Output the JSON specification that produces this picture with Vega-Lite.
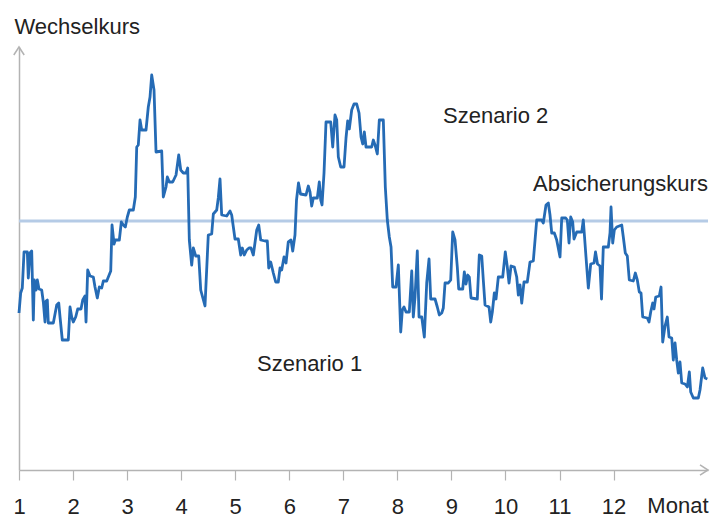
{
  "$schema": "https://vega.github.io/schema/vega-lite/v6.json",
  "width": 689,
  "height": 423,
  "autosize": "none",
  "padding": {"left": 19, "top": 47, "right": 2, "bottom": 48},
  "background": "white",
  "config": {
    "view": {"stroke": null},
    "font": "Liberation Sans",
    "axis": {"grid": false}
  },
  "datasets": {
    "kurs": [
      {"t":1.000,"v":157},{"t":1.031,"v":177},{"t":1.061,"v":182},{"t":1.093,"v":218},{"t":1.154,"v":218},{"t":1.172,"v":192},{"t":1.204,"v":217},{"t":1.235,"v":219},{"t":1.265,"v":150},{"t":1.283,"v":190},
      {"t":1.315,"v":180},{"t":1.339,"v":190},{"t":1.370,"v":181},{"t":1.420,"v":180},{"t":1.450,"v":168},{"t":1.481,"v":148},{"t":1.500,"v":169},{"t":1.524,"v":170},{"t":1.542,"v":147},{"t":1.574,"v":147},
      {"t":1.635,"v":147},{"t":1.698,"v":165},{"t":1.735,"v":167},{"t":1.759,"v":153},{"t":1.801,"v":130},{"t":1.912,"v":130},{"t":1.944,"v":163},{"t":1.975,"v":153},{"t":2.005,"v":148},{"t":2.049,"v":153},
      {"t":2.086,"v":161},{"t":2.147,"v":161},{"t":2.179,"v":170},{"t":2.221,"v":174},{"t":2.240,"v":148},{"t":2.271,"v":200},{"t":2.314,"v":194},{"t":2.375,"v":193},{"t":2.406,"v":183},{"t":2.449,"v":172},
      {"t":2.486,"v":183},{"t":2.530,"v":182},{"t":2.560,"v":189},{"t":2.623,"v":189},{"t":2.697,"v":199},{"t":2.721,"v":245},{"t":2.758,"v":226},{"t":2.782,"v":230},{"t":2.856,"v":230},{"t":2.893,"v":248},
      {"t":2.930,"v":245},{"t":2.967,"v":243},{"t":3.004,"v":253},{"t":3.041,"v":260},{"t":3.115,"v":260},{"t":3.152,"v":273},{"t":3.178,"v":323},{"t":3.207,"v":325},{"t":3.239,"v":350},{"t":3.270,"v":340},
      {"t":3.350,"v":340},{"t":3.392,"v":363},{"t":3.424,"v":373},{"t":3.455,"v":395},{"t":3.498,"v":380},{"t":3.535,"v":318},{"t":3.640,"v":319},{"t":3.670,"v":273},{"t":3.720,"v":283},{"t":3.744,"v":293},
      {"t":3.781,"v":288},{"t":3.844,"v":288},{"t":3.905,"v":295},{"t":3.955,"v":315},{"t":3.992,"v":300},{"t":4.040,"v":297},{"t":4.090,"v":297},{"t":4.121,"v":302},{"t":4.151,"v":230},{"t":4.195,"v":205},
      {"t":4.225,"v":222},{"t":4.269,"v":214},{"t":4.325,"v":214},{"t":4.362,"v":180},{"t":4.441,"v":164},{"t":4.502,"v":235},{"t":4.565,"v":236},{"t":4.595,"v":256},{"t":4.658,"v":260},{"t":4.687,"v":272},
      {"t":4.719,"v":291},{"t":4.750,"v":255},{"t":4.843,"v":254},{"t":4.904,"v":259},{"t":4.935,"v":255},{"t":4.996,"v":231},{"t":5.057,"v":231},{"t":5.102,"v":215},{"t":5.131,"v":222},{"t":5.168,"v":215},
      {"t":5.213,"v":220},{"t":5.255,"v":222},{"t":5.292,"v":222},{"t":5.335,"v":215},{"t":5.398,"v":240},{"t":5.435,"v":245},{"t":5.472,"v":230},{"t":5.551,"v":229},{"t":5.594,"v":229},{"t":5.620,"v":202},
      {"t":5.657,"v":208},{"t":5.705,"v":197},{"t":5.749,"v":188},{"t":5.797,"v":188},{"t":5.829,"v":202},{"t":5.860,"v":200},{"t":5.903,"v":213},{"t":5.940,"v":207},{"t":5.982,"v":228},{"t":6.032,"v":230},
      {"t":6.064,"v":219},{"t":6.106,"v":235},{"t":6.134,"v":270},{"t":6.171,"v":287},{"t":6.208,"v":276},{"t":6.310,"v":275},{"t":6.352,"v":284},{"t":6.384,"v":278},{"t":6.415,"v":264},{"t":6.445,"v":272},
      {"t":6.519,"v":272},{"t":6.556,"v":288},{"t":6.582,"v":270},{"t":6.606,"v":265},{"t":6.643,"v":297},{"t":6.680,"v":348},{"t":6.767,"v":348},{"t":6.804,"v":323},{"t":6.846,"v":355},{"t":6.878,"v":350},
      {"t":6.908,"v":313},{"t":6.952,"v":303},{"t":7.013,"v":303},{"t":7.050,"v":332},{"t":7.081,"v":349},{"t":7.111,"v":341},{"t":7.155,"v":360},{"t":7.198,"v":366},{"t":7.248,"v":366},{"t":7.291,"v":357},
      {"t":7.328,"v":333},{"t":7.359,"v":326},{"t":7.389,"v":338},{"t":7.420,"v":323},{"t":7.525,"v":323},{"t":7.555,"v":330},{"t":7.587,"v":325},{"t":7.629,"v":316},{"t":7.666,"v":350},{"t":7.740,"v":350},
      {"t":7.777,"v":283},{"t":7.814,"v":250},{"t":7.851,"v":233},{"t":7.883,"v":223},{"t":7.914,"v":183},{"t":7.975,"v":183},{"t":8.018,"v":205},{"t":8.062,"v":138},{"t":8.092,"v":160},{"t":8.123,"v":163},
      {"t":8.160,"v":158},{"t":8.221,"v":158},{"t":8.266,"v":199},{"t":8.295,"v":153},{"t":8.327,"v":173},{"t":8.369,"v":219},{"t":8.401,"v":153},{"t":8.451,"v":153},{"t":8.499,"v":133},{"t":8.543,"v":187},
      {"t":8.586,"v":211},{"t":8.617,"v":171},{"t":8.697,"v":171},{"t":8.739,"v":163},{"t":8.776,"v":155},{"t":8.821,"v":157},{"t":8.850,"v":162},{"t":8.882,"v":187},{"t":8.943,"v":187},{"t":8.987,"v":190},
      {"t":9.024,"v":238},{"t":9.067,"v":230},{"t":9.109,"v":203},{"t":9.135,"v":181},{"t":9.209,"v":181},{"t":9.239,"v":198},{"t":9.270,"v":186},{"t":9.302,"v":195},{"t":9.331,"v":193},{"t":9.363,"v":172},
      {"t":9.479,"v":171},{"t":9.516,"v":215},{"t":9.561,"v":214},{"t":9.590,"v":190},{"t":9.622,"v":165},{"t":9.696,"v":163},{"t":9.727,"v":148},{"t":9.757,"v":158},{"t":9.794,"v":177},{"t":9.825,"v":171},
      {"t":9.868,"v":193},{"t":9.949,"v":193},{"t":9.997,"v":218},{"t":10.034,"v":203},{"t":10.066,"v":187},{"t":10.103,"v":204},{"t":10.164,"v":203},{"t":10.208,"v":193},{"t":10.238,"v":175},{"t":10.269,"v":185},
      {"t":10.301,"v":167},{"t":10.343,"v":188},{"t":10.404,"v":188},{"t":10.454,"v":208},{"t":10.515,"v":209},{"t":10.578,"v":250},{"t":10.671,"v":250},{"t":10.700,"v":247},{"t":10.750,"v":265},{"t":10.793,"v":267},
      {"t":10.824,"v":255},{"t":10.856,"v":237},{"t":10.904,"v":237},{"t":10.948,"v":230},{"t":11.009,"v":213},{"t":11.041,"v":252},{"t":11.115,"v":252},{"t":11.144,"v":250},{"t":11.176,"v":227},{"t":11.207,"v":253},
      {"t":11.244,"v":248},{"t":11.268,"v":231},{"t":11.318,"v":238},{"t":11.411,"v":238},{"t":11.440,"v":250},{"t":11.490,"v":213},{"t":11.533,"v":182},{"t":11.577,"v":206},{"t":11.638,"v":207},{"t":11.666,"v":218},
      {"t":11.703,"v":206},{"t":11.749,"v":204},{"t":11.777,"v":171},{"t":11.810,"v":223},{"t":11.903,"v":223},{"t":11.934,"v":237},{"t":11.953,"v":263},{"t":11.984,"v":227},{"t":12.014,"v":240},{"t":12.058,"v":243},
      {"t":12.151,"v":245},{"t":12.180,"v":233},{"t":12.217,"v":217},{"t":12.254,"v":214},{"t":12.291,"v":190},{"t":12.365,"v":189},{"t":12.402,"v":197},{"t":12.439,"v":190},{"t":12.476,"v":178},{"t":12.508,"v":177},
      {"t":12.539,"v":153},{"t":12.624,"v":152},{"t":12.656,"v":148},{"t":12.687,"v":158},{"t":12.724,"v":167},{"t":12.748,"v":161},{"t":12.780,"v":173},{"t":12.846,"v":174},{"t":12.878,"v":183},{"t":12.909,"v":128},
      {"t":12.952,"v":144},{"t":12.994,"v":153},{"t":13.026,"v":133},{"t":13.076,"v":132},{"t":13.105,"v":110},{"t":13.137,"v":127},{"t":13.168,"v":110},{"t":13.198,"v":97},{"t":13.229,"v":108},{"t":13.261,"v":87},
      {"t":13.322,"v":86},{"t":13.365,"v":83},{"t":13.402,"v":98},{"t":13.427,"v":78},{"t":13.476,"v":72},{"t":13.568,"v":72},{"t":13.599,"v":80},{"t":13.649,"v":102},{"t":13.692,"v":92},{"t":13.735,"v":91}
    ],
    "hedge": [{"t": 1, "v": 249}, {"t": 13.747, "v": 249}],
    "labels": [
      {"t": 8.845, "v": 354, "text": "Szenario 2"},
      {"t": 10.510, "v": 286, "text": "Absicherungskurs"},
      {"t": 5.403, "v": 106, "text": "Szenario 1"}
    ],
    "arrowUp": [{"t": 1, "v": 423}],
    "arrowRight": [{"t": 13.747, "v": 0}]
  },
  "encoding": {
    "x": {
      "field": "t", "type": "quantitative",
      "scale": {"domain": [1, 13.747], "nice": false, "zero": false},
      "axis": {
        "values": [1,2,3,4,5,6,7,8,9,10,11,12],
        "format": "d",
        "title": "Monat",
        "titleFont": "Liberation Sans",
        "titleFontSize": 22,
        "titleFontWeight": "normal",
        "titleColor": "#222222",
        "titleAnchor": "end",
        "titleAlign": "right",
        "titleBaseline": "alphabetic",
        "titleX": 689,
        "titleY": 42,
        "domainColor": "#b3b3b3",
        "domainWidth": 1.5,
        "tickColor": "#b3b3b3",
        "tickWidth": 1.2,
        "tickSize": 10,
        "labelFont": "Liberation Sans",
        "labelFontSize": 22,
        "labelColor": "#222222",
        "labelPadding": 16,
        "labelFlush": false,
        "labelOverlap": false,
        "labelBound": false
      }
    },
    "y": {
      "field": "v", "type": "quantitative",
      "scale": {"domain": [0, 423], "nice": false, "zero": false},
      "axis": {
        "title": "Wechselkurs",
        "titleFont": "Liberation Sans",
        "titleFontSize": 22,
        "titleFontWeight": "normal",
        "titleColor": "#222222",
        "titleAngle": 0,
        "titleAlign": "left",
        "titleBaseline": "middle",
        "titleX": -5,
        "titleY": -21,
        "domainColor": "#b3b3b3",
        "domainWidth": 1.5,
        "ticks": false,
        "labels": false
      }
    }
  },
  "layer": [
    {
      "data": {"name": "hedge"},
      "mark": {"type": "line", "color": "#b5cbe6", "strokeWidth": 3}
    },
    {
      "data": {"name": "kurs"},
      "mark": {"type": "line", "color": "#256bb5", "strokeWidth": 2.8, "strokeJoin": "round"}
    },
    {
      "data": {"name": "labels"},
      "mark": {"type": "text", "align": "left", "baseline": "middle", "font": "Liberation Sans", "fontSize": 22, "color": "#222222"},
      "encoding": {"text": {"field": "text"}}
    },
    {
      "data": {"name": "arrowUp"},
      "mark": {"type": "point", "shape": "M-0.65,1L0,0L0.65,1", "filled": false, "stroke": "#b3b3b3", "strokeWidth": 1.5, "size": 256, "opacity": 1}
    },
    {
      "data": {"name": "arrowRight"},
      "mark": {"type": "point", "shape": "M-1,-0.65L0,0L-1,0.65", "filled": false, "stroke": "#b3b3b3", "strokeWidth": 1.5, "size": 256, "opacity": 1}
    }
  ]
}
